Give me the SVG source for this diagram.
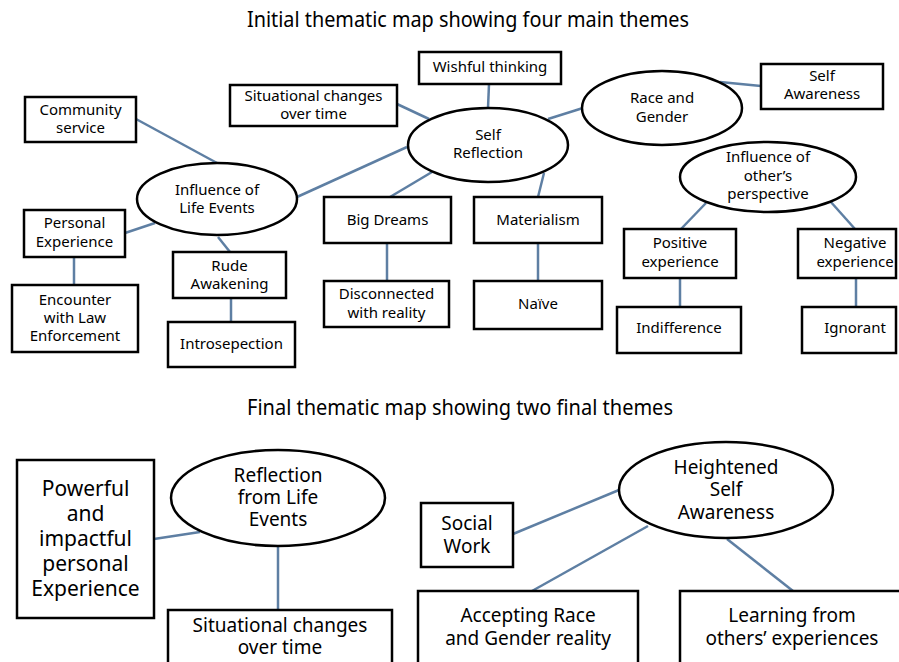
<svg xmlns="http://www.w3.org/2000/svg" width="899" height="662" viewBox="0 0 899 662">
<style>
.bg{fill:#fff}
.n{fill:#fff;stroke:#000;stroke-width:2.5}
.c line{stroke:#5e7fa3;stroke-width:2.5}
text{font-family:"Noto Sans","Open Sans",sans-serif;fill:#000;text-anchor:middle}
.t{font-size:21px}
.s{font-size:15px}
.m{font-size:19px}
.l{font-size:21px}
</style>
<rect class="bg" x="0" y="0" width="899" height="662"/>
<text class="t" x="468" y="27" textLength="442" lengthAdjust="spacingAndGlyphs">Initial thematic map showing four main themes</text>
<text class="t" x="460" y="415" textLength="426" lengthAdjust="spacingAndGlyphs">Final thematic map showing two final themes</text>
<g class="c" id="connectors">
<line x1="136" y1="119" x2="217" y2="163"/>
<line x1="125" y1="233" x2="155" y2="223"/>
<line x1="74" y1="257" x2="74" y2="285"/>
<line x1="218" y1="237" x2="230" y2="252"/>
<line x1="231" y1="298" x2="231" y2="322"/>
<line x1="297" y1="197" x2="407" y2="147"/>
<line x1="397" y1="104" x2="429" y2="119"/>
<line x1="489" y1="84" x2="488" y2="108"/>
<line x1="432" y1="172" x2="390" y2="197"/>
<line x1="544" y1="173" x2="538" y2="197"/>
<line x1="387" y1="243" x2="387" y2="281"/>
<line x1="538" y1="243" x2="538" y2="281"/>
<line x1="548" y1="119" x2="583" y2="108"/>
<line x1="720" y1="82" x2="761" y2="86"/>
<line x1="706" y1="203" x2="681" y2="229"/>
<line x1="830" y1="201" x2="855" y2="229"/>
<line x1="680" y1="278" x2="680" y2="307"/>
<line x1="856" y1="278" x2="856" y2="307"/>
<line x1="154" y1="539" x2="200" y2="532"/>
<line x1="278" y1="546" x2="278" y2="610"/>
<line x1="513" y1="534" x2="619" y2="490"/>
<line x1="648" y1="526" x2="532" y2="591"/>
<line x1="727" y1="539" x2="793" y2="591"/>
</g>
<g id="community-service"><rect class="n" x="25" y="97" width="111" height="45"/><text class="s" x="80.5" y="115">Community<tspan x="80.5" y="133">service</tspan></text></g>
<g id="influence-life-events"><ellipse class="n" cx="217" cy="199" rx="80" ry="36"/><text class="s" x="217" y="195">Influence of<tspan x="217" y="213">Life Events</tspan></text></g>
<g id="personal-experience"><rect class="n" x="24" y="210" width="101" height="47"/><text class="s" x="74.5" y="228">Personal<tspan x="74.5" y="247">Experience</tspan></text></g>
<g id="encounter"><rect class="n" x="12" y="285" width="126" height="67"/><text class="s" x="75" y="305">Encounter<tspan x="75" y="323">with Law</tspan><tspan x="75" y="341">Enforcement</tspan></text></g>
<g id="rude-awakening"><rect class="n" x="173" y="252" width="113" height="46"/><text class="s" x="229.5" y="271">Rude<tspan x="229.5" y="289">Awakening</tspan></text></g>
<g id="introsepection"><rect class="n" x="168" y="322" width="127" height="45"/><text class="s" x="231.5" y="349">Introsepection</text></g>
<g id="situational-top"><rect class="n" x="230" y="85" width="167" height="41"/><text class="s" x="313.5" y="101">Situational changes<tspan x="313.5" y="118.5">over time</tspan></text></g>
<g id="wishful-thinking"><rect class="n" x="419" y="52" width="142" height="32"/><text class="s" x="490" y="72">Wishful thinking</text></g>
<g id="self-reflection"><ellipse class="n" cx="488" cy="145" rx="80" ry="37"/><text class="s" x="488" y="140">Self<tspan x="488" y="158">Reflection</tspan></text></g>
<g id="big-dreams"><rect class="n" x="324" y="197" width="127" height="46"/><text class="s" x="387.5" y="225">Big Dreams</text></g>
<g id="disconnected"><rect class="n" x="324" y="281" width="125" height="46"/><text class="s" x="386.5" y="299">Disconnected<tspan x="386.5" y="318">with reality</tspan></text></g>
<g id="materialism"><rect class="n" x="474" y="197" width="128" height="46"/><text class="s" x="538" y="225">Materialism</text></g>
<g id="naive"><rect class="n" x="474" y="281" width="128" height="48"/><text class="s" x="538" y="309">Naïve</text></g>
<g id="race-gender"><ellipse class="n" cx="662" cy="108" rx="80" ry="37"/><text class="s" x="662" y="103">Race and<tspan x="662" y="122">Gender</tspan></text></g>
<g id="self-awareness"><rect class="n" x="761" y="64" width="122" height="45"/><text class="s" x="822" y="81">Self<tspan x="822" y="99">Awareness</tspan></text></g>
<g id="influence-others"><ellipse class="n" cx="768" cy="177" rx="88" ry="35"/><text class="s" x="768" y="162">Influence of<tspan x="768" y="181">other’s</tspan><tspan x="768" y="199">perspective</tspan></text></g>
<g id="positive-experience"><rect class="n" x="624" y="229" width="112" height="49"/><text class="s" x="680" y="248">Positive<tspan x="680" y="267">experience</tspan></text></g>
<g id="negative-experience"><rect class="n" x="798" y="229" width="98" height="49"/><text class="s" x="855" y="248">Negative<tspan x="855" y="267">experience</tspan></text></g>
<g id="indifference"><rect class="n" x="617" y="307" width="124" height="46"/><text class="s" x="679" y="333">Indifference</text></g>
<g id="ignorant"><rect class="n" x="802" y="307" width="94" height="46"/><text class="s" x="855" y="333">Ignorant</text></g>
<g id="powerful"><rect class="n" x="17" y="460" width="137" height="158"/><text class="l" x="85.5" y="495.5">Powerful<tspan x="85.5" y="520.5">and</tspan><tspan x="85.5" y="545.5">impactful</tspan><tspan x="85.5" y="570.5">personal</tspan><tspan x="85.5" y="596">Experience</tspan></text></g>
<g id="reflection-life-events"><ellipse class="n" cx="278" cy="498" rx="107" ry="48"/><text class="m" x="278" y="482">Reflection<tspan x="278" y="504">from Life</tspan><tspan x="278" y="526">Events</tspan></text></g>
<g id="situational-bottom"><rect class="n" x="168" y="610" width="224" height="70"/><text class="m" x="280" y="632">Situational changes<tspan x="280" y="654">over time</tspan></text></g>
<g id="heightened"><ellipse class="n" cx="726" cy="490" rx="107" ry="48"/><text class="m" x="726" y="474">Heightened<tspan x="726" y="496">Self</tspan><tspan x="726" y="519">Awareness</tspan></text></g>
<g id="social-work"><rect class="n" x="421" y="503" width="92" height="64"/><text class="m" x="467" y="530">Social<tspan x="467" y="553">Work</tspan></text></g>
<g id="accepting"><rect class="n" x="418" y="591" width="220" height="90"/><text class="m" x="528" y="622">Accepting Race<tspan x="528" y="645">and Gender reality</tspan></text></g>
<g id="learning"><rect class="n" x="680" y="591" width="240" height="90"/><text class="m" x="792" y="622">Learning from<tspan x="792" y="645">others’ experiences</tspan></text></g>
</svg>
